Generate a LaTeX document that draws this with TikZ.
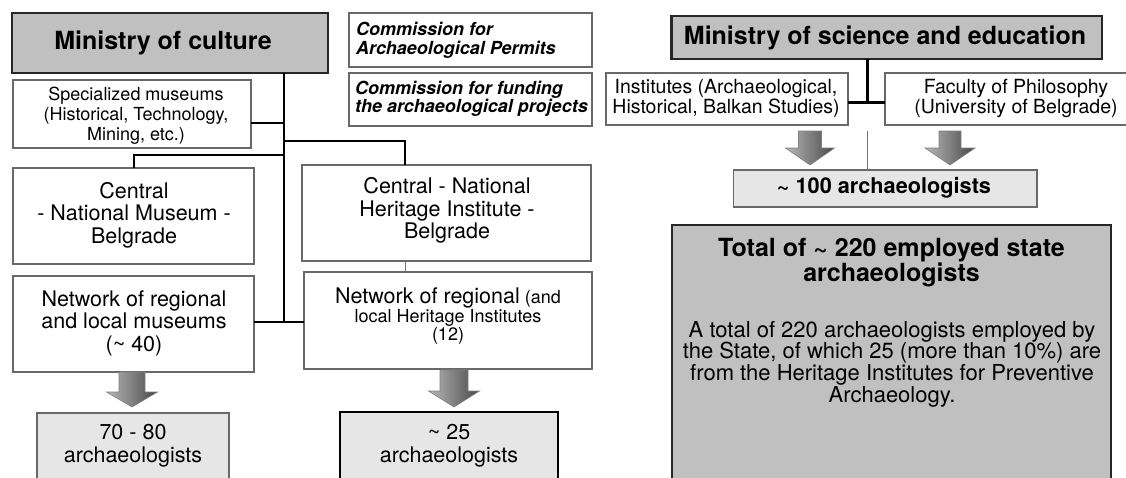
\documentclass[tikz,border=0pt]{standalone}
\usepackage{fontspec}
\setmainfont{TeX Gyre Heros}
\usetikzlibrary{calc}
\definecolor{midgray}{RGB}{192,192,192}
\definecolor{lightfill}{RGB}{230,230,230}
\definecolor{boxline}{RGB}{105,105,105}
\newcommand{\fs}[2]{\fontsize{#1pt}{#2pt}\selectfont}
% box node: name, style, x1, y1, x2, y2
\newcommand{\boxnode}[6]{\node[#2, minimum width={(#5-#3)*1pt}, minimum height={(#6-#4)*1pt}] (#1) at ({(#3+#5)/2},{(#4+#6)/2}) {};}
% big arrow: cx, ytop, yhead, ytip, shaft half, head half
\newcommand{\bigarrow}[6]{\shade[arrowfill] ({#1-#5},#2) -- ({#1+#5},#2) -- ({#1+#5},#3) -- ({#1+#6},#3) -- (#1,#4) -- ({#1-#6},#3) -- ({#1-#5},#3) -- cycle;}
\begin{document}
\begin{tikzpicture}[x=1pt,y=-1pt,
  conn/.style={line width=2.6pt, black},
  thinconn/.style={line width=0.8pt, black!55},
  basebox/.style={rectangle, inner sep=0pt, outer sep=0pt},
  plainbox/.style={basebox, draw=boxline, line width=1.1pt, fill=white},
  ministrybox/.style={basebox, draw=black!85, line width=2.4pt, fill=midgray},
  lightbox/.style={basebox, draw=boxline, line width=1.1pt, fill=lightfill},
  strongbox/.style={basebox, draw=black, line width=2.8pt, fill=lightfill},
  totalbox/.style={basebox, draw=black!85, line width=1.7pt, fill=midgray},
  arrowfill/.style={left color=black!28, right color=black!72, draw=black!50, line width=0.6pt},
  txt/.style={align=center, inner sep=0pt},
  title/.style={txt, font=\bfseries\fs{25}{25}},
  med/.style={txt, font=\fs{21.5}{22.5}},
  small/.style={txt, font=\fs{18}{20}},
  comm/.style={align=left, anchor=west, inner sep=0pt, font=\bfseries\itshape\fs{18}{18.5}}
]
\clip (0,0) rectangle (1126,477);

% ---------- left part: Ministry of culture ----------
\boxnode{mc}{ministrybox}{12}{13}{328}{73}
\boxnode{sp}{plainbox}{13}{80}{251}{148}
\boxnode{cm}{plainbox}{13}{168}{254}{264}
\boxnode{ch}{plainbox}{302}{165}{591}{261}
\boxnode{nm}{plainbox}{13}{276}{254}{372}
\boxnode{nh}{plainbox}{304}{272}{592}{369}
\boxnode{cp}{plainbox}{349}{13}{592}{67}
\boxnode{cf}{plainbox}{349}{73}{592}{126}
\boxnode{b78}{lightbox}{37}{413}{229}{500}
\boxnode{b25}{strongbox}{340}{412}{558}{500}

\node[title] (mcT) at (163,43) {Ministry of culture};
\node[small] (spT) at (136,116) {Specialized museums\\(Historical, Technology,\\Mining, etc.)};
\node[med] (cmT) at (134,215) {Central\\- National Museum -\\Belgrade};
\node[med] (chT) at (447,210.5) {Central - National\\Heritage Institute -\\Belgrade};
\node[med] (nmT) at (134,323) {Network of regional\\and local museums\\(\textasciitilde{} 40)};
\node[txt, font=\fs{18}{18}] (nhT) at (448,316) {{\fs{21.5}{18}Network of regional} (and\\[1pt]local Heritage Institutes\\(12)};
\node[comm] (cpT) at (356,40.5) {Commission for\\Archaeological Permits};
\node[comm] (cfT) at (355,99) {Commission for funding\\the archaeological projects};
\node[med] (b78T) at (133,445.5) {70 - 80\\archaeologists};
\node[med] (b25T) at (449,445.5) {\textasciitilde{} 25\\archaeologists};

% connectors
\coordinate (tr) at (284,0);
\coordinate (bR) at (405,141);
\coordinate (bL) at (134,155);
\coordinate (spc) at ([yshift=-9pt]sp.east);
\coordinate (nmc) at ([yshift=2pt]nm.east);
\draw[conn] (tr |- mc.south) -- (tr |- nmc);
\draw[conn] (spc) -- (tr |- spc);
\draw[conn] (tr |- bR) -- (bR) -- (bR |- ch.north);
\draw[conn] (tr |- bL) -- (bL) -- (bL |- cm.north);
\draw[conn] (nmc) -- (nmc -| nh.west);
\draw[thinconn] (bR |- ch.south) -- (bR |- nh.north);

\bigarrow{132}{372}{392}{407}{13}{25.5}
\bigarrow{454}{370}{391}{407}{14}{25.5}

% ---------- right part: Ministry of science ----------
\boxnode{ms}{ministrybox}{671.5}{16}{1102}{59}
\boxnode{in}{plainbox}{606}{73}{848}{125}
\boxnode{fa}{plainbox}{885}{73}{1150}{125}
\boxnode{b100}{lightbox}{733.5}{170}{1037}{207}
\boxnode{tot}{totalbox}{672}{225}{1111}{520}

\node[title] (msT) at (885,37.5) {Ministry of science and education};
\node[txt, font=\fs{19.5}{20}] (inT) at (726,98.5) {Institutes (Archaeological,\\Historical, Balkan Studies)};
\node[txt, font=\fs{19.5}{20}] (faT) at (1016,98.5) {Faculty of Philosophy\\(University of Belgrade)};
\node[txt, font=\bfseries\fs{21.7}{22}] (b100T) at (884,188) {\textasciitilde{} 100 archaeologists};
\node[title] (totT) at (891.5,262.5) {Total of \textasciitilde{} 220 employed state\\archaeologists};
\node[txt, font=\fs{22}{21.7}] (totB) at (892,364) {A total of 220 archaeologists employed by\\the State, of which 25 (more than 10\%) are\\from the Heritage Institutes for Preventive\\Archaeology.};

\coordinate (tr2) at (867.5,0);
\coordinate (j2) at (0,102.5);
\draw[conn] (tr2 |- ms.south) -- (tr2 |- j2);
\draw[conn] (in.east |- j2) -- (fa.west |- j2);
\coordinate (t100) at (867.5,131);
\draw[thinconn] (t100) -- (t100 |- b100.north);

\bigarrow{810}{131}{148}{165}{11.5}{24.5}
\bigarrow{950}{131}{148}{165}{11}{25}
\end{tikzpicture}
\end{document}
